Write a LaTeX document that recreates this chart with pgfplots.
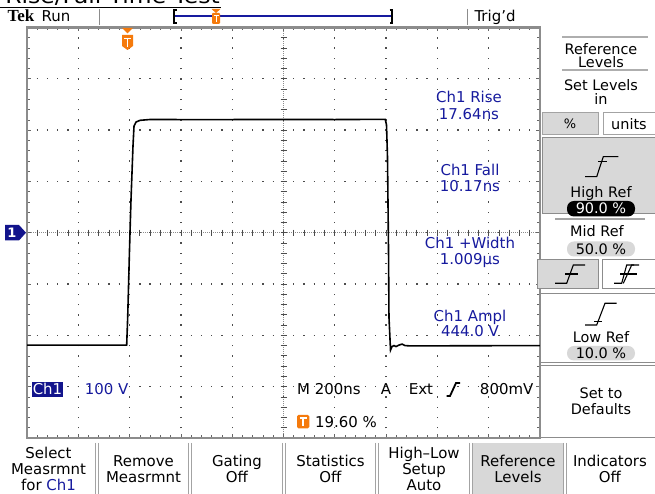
\documentclass[border=0pt]{standalone}
\usepackage{fontspec}
\setmainfont{DejaVu Sans}
\newfontfamily\tekfont{Liberation Serif}
\usepackage{pgfplots}
\usepackage{pgfplotstable}
\pgfplotsset{compat=1.18}
\definecolor{tekblue}{RGB}{22,26,158}
\definecolor{tekorange}{RGB}{245,122,12}
\definecolor{framegray}{RGB}{140,140,140}
\definecolor{panel}{RGB}{216,216,216}
\definecolor{navy}{RGB}{18,20,140}
% waveform in divisions (x: 200 ns/div, y: 100 V/div)
\pgfplotstableread{
x y
-5.000 -2.190
-3.057 -2.190
-3.037 -1.643
-3.002 -0.337
-2.973 0.637
-2.934 1.690
-2.914 2.080
-2.875 2.158
-2.797 2.191
-2.602 2.207
-1.500 2.205
0.000 2.208
1.000 2.206
1.984 2.210
2.008 2.100
2.027 1.476
2.047 -0.337
2.056 -1.643
2.086 -2.287
2.115 -2.218
2.154 -2.199
2.193 -2.218
2.252 -2.189
2.310 -2.170
2.368 -2.199
2.466 -2.205
5.000 -2.199
}\wave
\begin{document}
\begin{tikzpicture}
\useasboundingbox (0,0) rectangle (655bp,494bp);
\clip (0,0) rectangle (655bp,494bp);
\fill[white] (0,0) rectangle (655bp,494bp);
% center crosshair
\begin{scope}[x=1bp,y=-1bp,yshift=494bp]
\draw[black!45, line width=0.7bp, dash pattern=on 0.8bp off 1.2bp] (27,232.7) -- (540,232.7);
\draw[black!45, line width=0.7bp, dash pattern=on 0.8bp off 1.2bp] (283.5,27.5) -- (283.5,438);
\foreach \i in {0,...,50} \draw[black!70, line width=0.8bp] ({27+10.26*\i},229.7) -- ++(0,6);
\foreach \j in {0,...,40} \draw[black!70, line width=0.8bp] (280.5,{27.5+10.2625*\j}) -- ++(6,0);
\end{scope}
\begin{axis}[
  at={(27bp,56bp)}, anchor=south west,
  width=513bp, height=410.5bp, scale only axis,
  xmin=-5, xmax=5, ymin=-4, ymax=4,
  xtick={-4,...,4}, ytick={-3,...,3},
  minor xtick={-4.8,-4.6,...,4.8}, minor ytick={-3.8,-3.6,...,3.8},
  xticklabels={}, yticklabels={},
  grid=major,
  major grid style={black!70, line width=1.3bp, dash pattern=on 1.3bp off 8.96bp, dash phase=0.65bp},
  tick align=inside, major tick length=4bp, minor tick length=3bp,
  tick style={black!60, line width=0.7bp},
  axis line style={framegray, line width=2.5bp},
]
\addplot[black, line width=1.6bp, mark=none] table[x=x,y=y] {\wave};
\end{axis}
\begin{scope}[x=1bp,y=-1bp,yshift=494bp,
  every node/.style={inner sep=0pt, text height=10.9bp, text depth=0pt, font=\fontsize{15}{17}\selectfont}]
% clipped title (cut off at the top edge, as in the screenshot)
\node[anchor=base east, font=\fontsize{21}{21}\selectfont, text height=, text depth=, xscale=1.12] at (220,4) {Rise/Fall Time Test};
\draw[black, line width=1.5bp] (0,7.5) -- (221,7.5);
% top bar
\node[font=\tekfont\bfseries\fontsize{17}{17}\selectfont] at (21,16.5) {Tek};
\node at (56,16.5) {Run};
\draw[framegray, line width=1bp] (99.5,9) -- (99.5,25);
\draw[framegray, line width=1bp] (467,9) -- (467,25);
\draw[tekblue, line width=1.2bp] (174,16) -- (392,16);
\draw[black, line width=1.2bp] (176.5,10) -- (174,10) -- (174,23) -- (176.5,23);
\draw[black, line width=1.2bp] (389.5,10) -- (392,10) -- (392,23) -- (389.5,23);
\fill[tekorange] (211.5,9) -- (220.5,9) -- (216,13) -- cycle;
\fill[tekorange, rounded corners=1bp] (212,13) rectangle (220,24);
\draw[white, line width=1bp] (213.5,15.5) -- (218.5,15.5) (216,15.5) -- (216,22.5);
\node at (495,16) {Trig’d};
% trigger marker in graticule
\fill[tekorange] (122,28) -- (133,28) -- (127.5,33.5) -- cycle;
\fill[tekorange] (122,35) -- (133,35) -- (133,46) -- (127.5,50) -- (122,46) -- cycle;
\draw[white, line width=1.6bp] (124.3,38.5) -- (130.7,38.5) (127.5,38.5) -- (127.5,47);
% channel 1 marker
\fill[navy] (5,225) -- (19,225) -- (26,232.7) -- (19,240.5) -- (5,240.5) -- cycle;
\node[text=white, font=\bfseries\fontsize{13}{13}\selectfont, text height=9.5bp] at (12,232.7) {1};
% measurements
\begin{scope}[every node/.append style={text=tekblue}]
\node at (469,97.3) {Ch1 Rise};
\node at (469,114.3) {17.64ns};
\node at (470,170) {Ch1 Fall};
\node at (470,185.7) {10.17ns};
\node at (470,242.7) {Ch1 +Width};
\node at (470,259.3) {1.009µs};
\node at (470,315.7) {Ch1 Ampl};
\node at (470,331) {444.0 V};
\node at (106.5,389.5) {100 V};
\end{scope}
\fill[navy] (31.7,381.7) rectangle (63.3,397.3);
\node[text=white] at (47.5,389.5) {Ch1};
\node[anchor=west] at (297,389.5) {M 200ns};
\node at (386,389.5) {A};
\node at (421,389.5) {Ext};
\draw[black, line width=1.8bp] (446.5,396) -- (450,396) -- (456,383) -- (460,383);
\node[anchor=east] at (533.5,389.5) {800mV};
\fill[tekorange, rounded corners=1.5bp] (297,415) rectangle (309.3,428.3);
\draw[white, line width=1.6bp] (299.8,418) -- (306.5,418) (303.15,418) -- (303.15,426.5);
\node[anchor=west] at (315,421.7) {19.60 \%};
% right panel
\begin{scope}[every node/.append style={font=\fontsize{14.5}{16}\selectfont, text height=10.5bp}]
\draw[framegray!70, line width=2bp] (562,36.7) -- (648,36.7);
\node at (601,49.3) {Reference};
\node at (601,62.7) {Levels};
\draw[framegray!70, line width=2bp] (562,70.5) -- (648,70.5);
\node at (601,85) {Set Levels};
\node at (601,99.5) {in};
\draw[fill=panel, draw=framegray!80, line width=1bp] (542,113) rectangle (598,135);
\node[font=\fontsize{13}{13}\selectfont, text height=9.5bp] at (570,124) {\%};
\draw[fill=white, draw=framegray!80, line width=1bp] (603,113) rectangle (656,135);
\node at (629,124) {units};
\draw[fill=panel, draw=framegray, line width=1bp] (542,137.5) rectangle (656,214);
\draw[black, line width=1.1bp] (585,176.7) -- (596.7,176.7) -- (603.3,156.7) -- (618.3,156.7);
\draw[black, line width=1.1bp] (598,161.7) -- (607,161.7);
\node at (601,192.7) {High Ref};
\fill[black, rounded corners=7bp] (567,201) rectangle (635,216.5);
\node[text=white] at (601,208.7) {90.0 \%};
\draw[framegray!80, line width=2bp] (555,219.5) -- (645,219.5);
\node at (597,231.7) {Mid Ref};
\fill[panel, rounded corners=7bp] (567,241.5) rectangle (635,256.5);
\node at (601,249) {50.0 \%};
\draw[fill=panel, draw=framegray, line width=1bp] (537,260) rectangle (598,289);
\draw[black, line width=1.1bp] (555,283.3) -- (566.7,283.3) -- (573.3,265) -- (585,265);
\draw[black, line width=1.1bp] (565,274) -- (578,274);
\draw[fill=white, draw=framegray, line width=1bp] (602,260) rectangle (656,289);
\draw[black, line width=1.1bp] (614,283.3) -- (621.7,283.3) -- (626.7,265) -- (634,265);
\draw[black, line width=1.1bp] (623.3,283.3) -- (631.7,265) -- (639,265);
\draw[black, line width=1.1bp] (620,274) -- (637,274);
\draw[fill=white, draw=framegray, line width=1bp] (540,294) rectangle (656,363);
\draw[black, line width=1.1bp] (585,325) -- (596.7,325) -- (605,303.3) -- (616.7,303.3);
\draw[black, line width=1.1bp] (594,321.5) -- (602,321.5);
\node at (601,337) {Low Ref};
\fill[panel, rounded corners=7bp] (567,346) rectangle (635,360.5);
\node at (601,353.3) {10.0 \%};
\draw[fill=white, draw=framegray, line width=1bp] (540,365.5) rectangle (656,437.5);
\node at (601,393) {Set to};
\node at (601,409.3) {Defaults};
\end{scope}
% bottom buttons
\fill[panel] (473,443) rectangle (563,495);
\foreach \xx in {97,190,284,377,471,565}
  \draw[framegray!80, line width=1.2bp] (\xx-1.6,443) -- (\xx-1.6,495) (\xx+1.6,443) -- (\xx+1.6,495);
\node at (48.5,453) {Select};
\node at (48.5,469) {Measrmnt};
\node at (48.5,485) {for \textcolor{tekblue}{Ch1}};
\node at (143.5,461) {Remove};
\node at (143.5,477) {Measrmnt};
\node at (237,461) {Gating};
\node at (237,477) {Off};
\node at (330.5,461) {Statistics};
\node at (330.5,477) {Off};
\node at (424,453) {High–Low};
\node at (424,469) {Setup};
\node at (424,485) {Auto};
\node at (518,461) {Reference};
\node at (518,477) {Levels};
\node at (610,461) {Indicators};
\node at (610,477) {Off};
\end{scope}
\end{tikzpicture}
\end{document}
